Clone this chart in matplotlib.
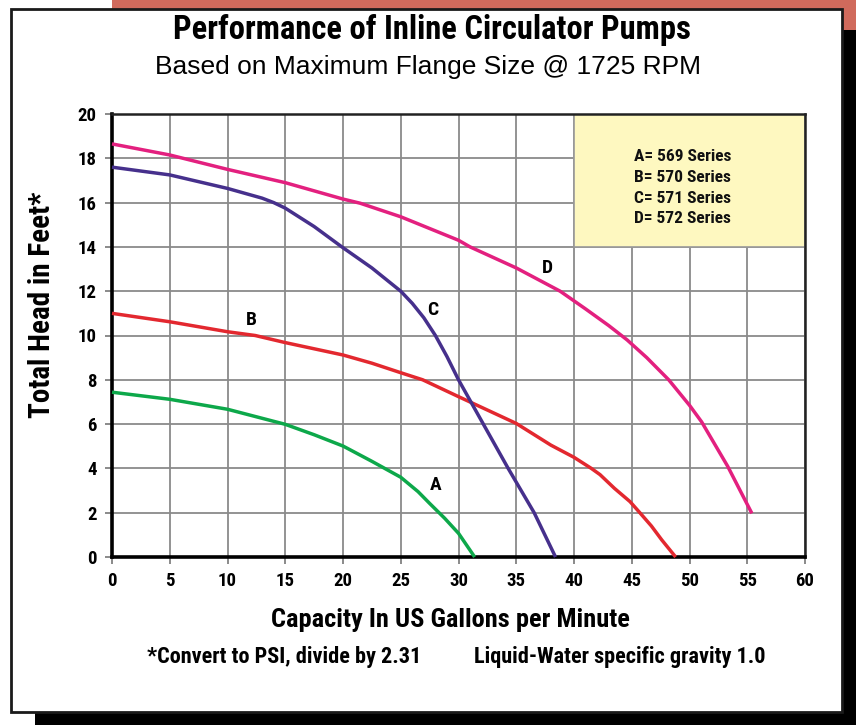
import matplotlib
matplotlib.use("Agg")
import matplotlib.pyplot as plt
from matplotlib.patches import Rectangle
from matplotlib import font_manager

# ---------------- data ----------------
a_gpm  = [0, 5, 10, 15, 17.5, 20, 22.5, 25, 26.5, 27.5, 28.8, 30, 31.4]
a_head = [7.44, 7.12, 6.67, 5.99, 5.52, 5.01, 4.32, 3.6, 2.95, 2.42, 1.75, 1.07, 0]

b_gpm  = [0, 5, 10, 12.4, 15, 20, 22.5, 25, 26.9, 30, 35, 38, 40, 41.5, 42.25, 43.5,
          44.85, 45.7, 46.7, 47.6, 48.8]
b_head = [11.0, 10.62, 10.17, 10.0, 9.68, 9.12, 8.75, 8.32, 8.0, 7.24, 6.03, 5.05, 4.5, 4.0,
          3.72, 3.1, 2.5, 2.0, 1.4, 0.77, 0]

c_gpm  = [0, 5, 10, 13, 14, 15, 17.5, 19.9, 22.5, 25.0, 26.0, 27.0, 28.0, 29.0, 30.0, 32.15,
          34.3, 36.55, 38.4]
c_head = [17.6, 17.25, 16.64, 16.2, 16.0, 15.75, 14.92, 14.0, 13.05, 12.0, 11.45, 10.8, 10.0,
          9.05, 8.0, 6.0, 4.0, 2.0, 0]

d_gpm  = [0, 5, 10, 15, 20, 21.5, 25, 30, 31.0, 35, 38.8, 41, 43, 44.6, 46.3, 48.2, 50,
          51.05, 53.3, 55.4]
d_head = [18.65, 18.15, 17.5, 16.9, 16.16, 15.97, 15.36, 14.3, 14.0, 13.05, 12.0, 11.2, 10.45,
          9.8, 9.0, 8.0, 6.85, 6.1, 4.1, 1.97]

series_letters = ["A", "B", "C", "D"]
series_names = ["569 Series", "570 Series", "571 Series", "572 Series"]
x_ticks = list(range(0, 61, 5))
y_ticks = list(range(0, 21, 2))

# ---------------- fonts ----------------
names = {f.name for f in font_manager.fontManager.ttflist}
if "Roboto Condensed" in names:
    NARROW, STRETCH = "Roboto Condensed", "condensed"
else:
    NARROW, STRETCH = "DejaVu Sans", "condensed"
REG = "Liberation Sans" if "Liberation Sans" in names else "DejaVu Sans"
plt.rcParams['font.family'] = [NARROW, 'DejaVu Sans']
plt.rcParams['font.stretch'] = STRETCH

colors = ["#0DA84A", "#E3282F", "#46308C", "#E3207F"]
label_pos = [(28.0, 3.25), (12.1, 10.7), (27.8, 11.15), (37.7, 13.05)]

W, H = 856, 725
fig = plt.figure(figsize=(W / 100, H / 100), dpi=100)
fig.patch.set_facecolor("white")

def rect_px(x0, y0, x1, y1, **kw):
    r = Rectangle((x0 / W, 1 - y1 / H), (x1 - x0) / W, (y1 - y0) / H,
                  transform=fig.transFigure, **kw)
    fig.add_artist(r)
    return r

# background decorations
rect_px(112, 0, 860, 32, facecolor="#D06A5C", edgecolor="none", zorder=-10)
rect_px(35, 30, 860, 730, facecolor="black", edgecolor="none", zorder=-9)
rect_px(11, 9, 842, 712, facecolor="white", edgecolor="#1a1a1a", linewidth=2.0, zorder=-8)

ax = fig.add_axes([112 / W, 1 - 557 / H, (805 - 112) / W, (557 - 114) / H])
ax.set_zorder(1)
ax.patch.set_alpha(0)

ax.set_xlim(0, 60)
ax.set_ylim(0, 20)
ax.set_xticks(x_ticks)
ax.set_yticks(y_ticks)
ax.set_axisbelow(True)
ax.grid(True, color="#8a8a8a", linewidth=1.3)
for s in ["left", "bottom"]:
    ax.spines[s].set_linewidth(2.6)
    ax.spines[s].set_color("black")
for s in ["top", "right"]:
    ax.spines[s].set_linewidth(1.8)
    ax.spines[s].set_color("#222222")
ax.tick_params(direction="out", length=5, width=1.2, color="#777777",
               labelsize=13.5, pad=6)
for lab in ax.get_xticklabels() + ax.get_yticklabels():
    lab.set_fontweight("bold")
    lab.set_fontstretch(STRETCH)
    lab.set_family([NARROW, 'DejaVu Sans'])

# legend box
ax.add_patch(Rectangle((40 / 60, 14 / 20), 20 / 60, 6 / 20, transform=ax.transAxes,
                       facecolor="#FEF8C0", edgecolor="#9a9a9a", linewidth=1.2, zorder=1.5))
leg_y = [0.905, 0.857, 0.810, 0.764]
for letter, name, yy in zip(series_letters, series_names, leg_y):
    ax.text(0.753, yy, f"{letter}= {name}", transform=ax.transAxes, ha="left", va="center",
            fontsize=12.5, fontweight="bold", fontstretch=STRETCH, color="#111111", zorder=4)

# curves
for xs, ys, c, letter, (lx, ly) in zip([a_gpm, b_gpm, c_gpm, d_gpm],
                                        [a_head, b_head, c_head, d_head],
                                        colors, series_letters, label_pos):
    ax.plot(xs, ys, color=c, linewidth=2.5, solid_capstyle="butt", solid_joinstyle="round",
            zorder=3, clip_on=False)
    ax.text(lx, ly, letter, ha="center", va="center", fontsize=14, fontweight="bold",
            fontstretch=STRETCH, color="black", zorder=4)

# texts
kw = dict(fontweight="bold", fontstretch=STRETCH, color="black", ha="center", va="center")
fig.text(432 / W, 1 - 30 / H, "Performance of Inline Circulator Pumps", fontsize=23.5, **kw)
fig.text(428 / W, 1 - 67 / H, "Based on Maximum Flange Size @ 1725 RPM", ha="center", va="center",
         fontsize=19, family=[REG, 'DejaVu Sans'], fontstretch="normal", color="black")
fig.text(42 / W, 1 - 305 / H, "Total Head in Feet*", rotation=90, fontsize=21, **kw)
fig.text(450 / W, 1 - 620 / H, "Capacity In US Gallons per Minute", fontsize=19, **kw)
fig.text(284 / W, 1 - 657 / H, "*Convert to PSI, divide by 2.31", fontsize=16, **kw)
fig.text(620 / W, 1 - 657 / H, "Liquid-Water specific gravity 1.0", fontsize=16, **kw)

fig.savefig("out.png", dpi=100)
